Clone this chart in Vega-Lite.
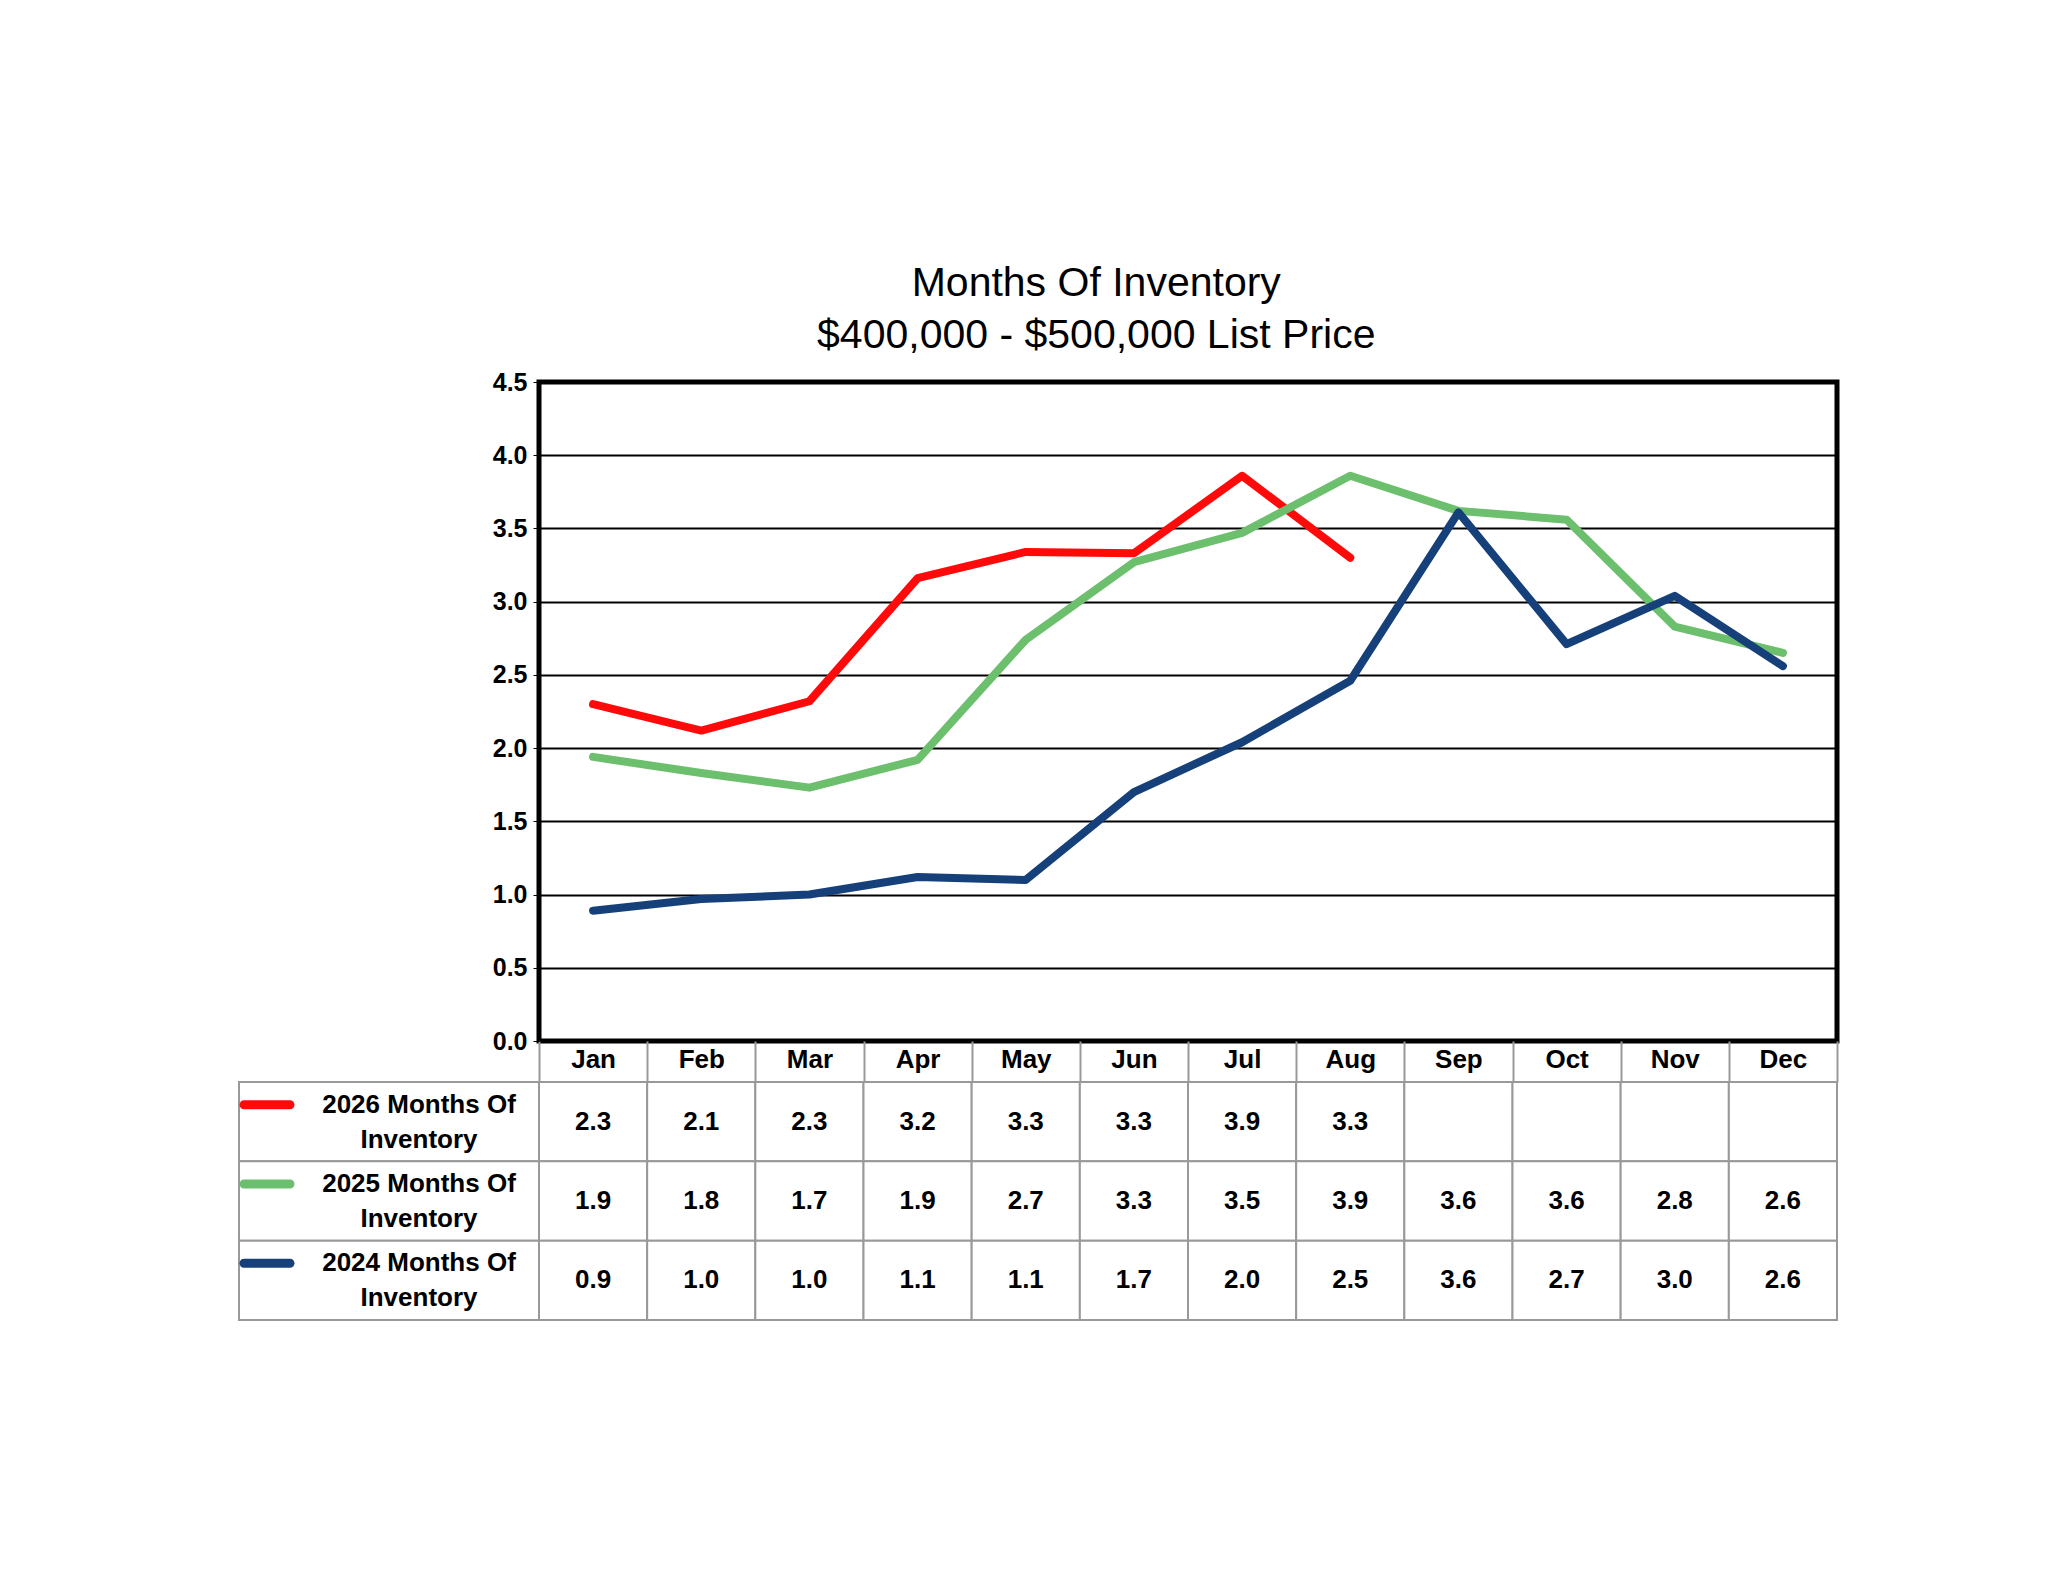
{
  "$schema": "https://vega.github.io/schema/vega-lite/v6.json",
  "background": "white",
  "padding": {"left": 238, "top": 262, "right": 0, "bottom": 0},
  "title": {"text": ["Months Of Inventory", "$400,000 - $500,000 List Price"], "font": "Liberation Sans", "fontSize": 41, "fontWeight": "normal", "lineHeight": 52, "anchor": "middle", "dx": 57, "offset": 11, "color": "black"},
  "config": {"font": "Liberation Sans", "concat": {"spacing": 0}},
  "bounds": "flush",
  "spacing": 700,
  "datasets": {
    "inv": [
      {"month": "Jan", "series": "2026", "value": 2.30}, {"month": "Feb", "series": "2026", "value": 2.12},
      {"month": "Mar", "series": "2026", "value": 2.32}, {"month": "Apr", "series": "2026", "value": 3.16},
      {"month": "May", "series": "2026", "value": 3.34}, {"month": "Jun", "series": "2026", "value": 3.33},
      {"month": "Jul", "series": "2026", "value": 3.86}, {"month": "Aug", "series": "2026", "value": 3.30},
      {"month": "Sep", "series": "2026", "value": null}, {"month": "Oct", "series": "2026", "value": null},
      {"month": "Nov", "series": "2026", "value": null}, {"month": "Dec", "series": "2026", "value": null},
      {"month": "Jan", "series": "2025", "value": 1.94}, {"month": "Feb", "series": "2025", "value": 1.83},
      {"month": "Mar", "series": "2025", "value": 1.73}, {"month": "Apr", "series": "2025", "value": 1.92},
      {"month": "May", "series": "2025", "value": 2.74}, {"month": "Jun", "series": "2025", "value": 3.27},
      {"month": "Jul", "series": "2025", "value": 3.47}, {"month": "Aug", "series": "2025", "value": 3.86},
      {"month": "Sep", "series": "2025", "value": 3.62}, {"month": "Oct", "series": "2025", "value": 3.56},
      {"month": "Nov", "series": "2025", "value": 2.83}, {"month": "Dec", "series": "2025", "value": 2.65},
      {"month": "Jan", "series": "2024", "value": 0.89}, {"month": "Feb", "series": "2024", "value": 0.97},
      {"month": "Mar", "series": "2024", "value": 1.00}, {"month": "Apr", "series": "2024", "value": 1.12},
      {"month": "May", "series": "2024", "value": 1.10}, {"month": "Jun", "series": "2024", "value": 1.70},
      {"month": "Jul", "series": "2024", "value": 2.04}, {"month": "Aug", "series": "2024", "value": 2.46},
      {"month": "Sep", "series": "2024", "value": 3.61}, {"month": "Oct", "series": "2024", "value": 2.71},
      {"month": "Nov", "series": "2024", "value": 3.04}, {"month": "Dec", "series": "2024", "value": 2.56}
    ],
    "rows": [
      {"series": "2026", "label": "2026 Months Of|Inventory"},
      {"series": "2025", "label": "2025 Months Of|Inventory"},
      {"series": "2024", "label": "2024 Months Of|Inventory"}
    ]
  },
  "vconcat": [
    {
      "bounds": "flush",
      "hconcat": [
        {
          "width": 300, "height": 659,
          "data": {"values": [{}]},
          "mark": {"type": "text", "text": ""},
          "encoding": {},
          "view": {"stroke": null}
        },
        {
          "width": 1298, "height": 659,
          "data": {"name": "inv"},
          "transform": [{"filter": "datum.value != null"}],
          "mark": {"type": "line", "strokeWidth": 8, "strokeCap": "round", "strokeJoin": "round"},
          "encoding": {
            "x": {"field": "month", "type": "nominal", "sort": null, "bandPosition": 0.5,
              "scale": {"type": "band", "paddingInner": 0, "paddingOuter": 0},
              "axis": {"title": null, "labelAngle": 0, "labelFontSize": 26, "labelFontWeight": "bold", "labelColor": "black", "labelPadding": -36, "domain": false, "tickBand": "extent", "tickSize": 41, "tickColor": "#999999", "tickWidth": 2, "grid": false}},
            "y": {"field": "value", "type": "quantitative",
              "scale": {"domain": [0, 4.5]},
              "axis": {"title": null, "values": [0, 0.5, 1, 1.5, 2, 2.5, 3, 3.5, 4, 4.5], "format": ".1f", "labelFontSize": 25, "labelFontWeight": "bold", "labelColor": "black", "labelPadding": 6, "tickSize": 6, "tickColor": "black", "domain": false, "gridColor": "black", "gridWidth": 2, "gridOpacity": 1}},
            "color": {"field": "series", "type": "nominal", "legend": null,
              "scale": {"domain": ["2026", "2025", "2024"], "range": ["#ff0a0a", "#6cbf6c", "#16407a"]}}
          },
          "view": {"stroke": "black", "strokeWidth": 5}
        }
      ]
    },
    {
      "bounds": "flush",
      "hconcat": [
        {
          "width": 300, "height": 238,
          "data": {"name": "rows"},
          "encoding": {
            "y": {"field": "series", "type": "nominal", "sort": null, "scale": {"paddingInner": 0, "paddingOuter": 0}, "axis": null}
          },
          "layer": [
            {"mark": {"type": "rect", "fill": "white", "stroke": "#999999", "strokeWidth": 2}, "encoding": {}},
            {"mark": {"type": "tick", "orient": "horizontal", "x": 28, "size": 55, "thickness": 9, "cornerRadius": 5, "yOffset": -17, "opacity": 1},
              "encoding": {"color": {"field": "series", "type": "nominal", "legend": null,
                "scale": {"domain": ["2026", "2025", "2024"], "range": ["#ff0a0a", "#6cbf6c", "#16407a"]}}}},
            {"mark": {"type": "text", "x": 180, "dy": -17, "fontSize": 26, "fontWeight": "bold", "lineBreak": "|", "lineHeight": 35, "align": "center", "baseline": "middle", "color": "black"},
              "encoding": {"text": {"field": "label"}}}
          ],
          "view": {"stroke": null}
        },
        {
          "width": 1298, "height": 238,
          "data": {"name": "inv"},
          "encoding": {
            "x": {"field": "month", "type": "nominal", "sort": null, "scale": {"paddingInner": 0, "paddingOuter": 0}, "axis": null},
            "y": {"field": "series", "type": "nominal", "sort": ["2026", "2025", "2024"], "scale": {"paddingInner": 0, "paddingOuter": 0}, "axis": null}
          },
          "layer": [
            {"mark": {"type": "rect", "fill": "white", "stroke": "#999999", "strokeWidth": 2}, "encoding": {}},
            {"transform": [{"filter": "datum.value != null"}],
              "mark": {"type": "text", "fontSize": 26, "fontWeight": "bold", "color": "black"},
              "encoding": {"text": {"field": "value", "type": "quantitative", "format": ".1f"}}}
          ],
          "view": {"stroke": null}
        }
      ]
    }
  ]
}
